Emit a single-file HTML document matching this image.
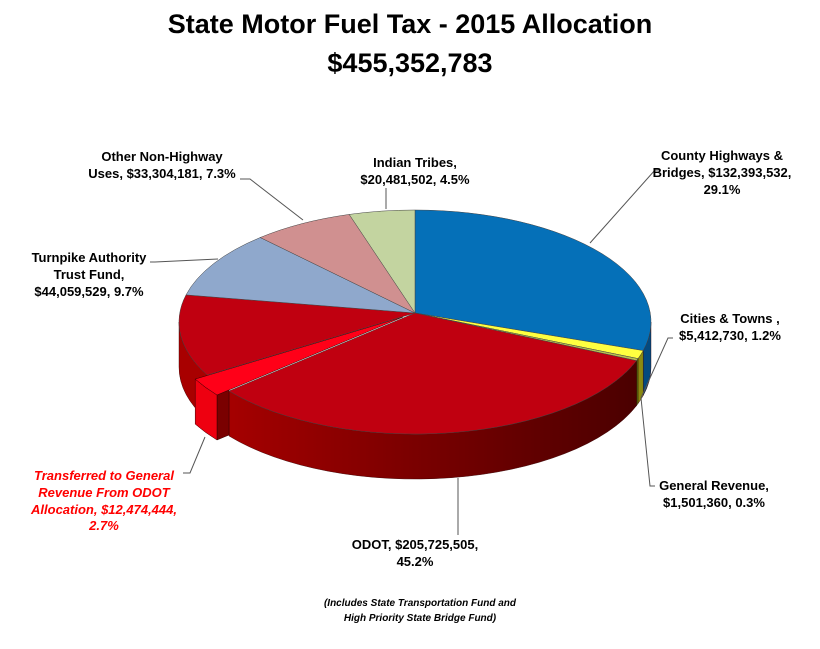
<!DOCTYPE html>
<html><head><meta charset="utf-8"><style>
body{margin:0;background:#fff;width:820px;height:644px;overflow:hidden;font-family:"Liberation Sans",sans-serif}
svg text{font-family:"Liberation Sans",sans-serif;font-weight:bold;font-size:13px;fill:#000}
</style></head><body>
<svg width="820" height="644" viewBox="0 0 820 644" xmlns="http://www.w3.org/2000/svg">
<defs>
<linearGradient id="gs" x1="180" y1="0" x2="650" y2="0" gradientUnits="userSpaceOnUse">
<stop offset="0" stop-color="#b00000"/><stop offset="0.5" stop-color="#7a0000"/><stop offset="1" stop-color="#480000"/>
</linearGradient>
</defs>
<g stroke="#300" stroke-width="0.4">
<path d="M651,322 A236,112 0 0 1 643.2,350.6 L643.2,395.6 A236,112 0 0 0 651,367 Z" fill="#034a80"/>
<path d="M643.2,350.6 A236,112 0 0 1 638,358.6 L638,403.6 A236,112 0 0 0 643.2,395.6 Z" fill="#8a8a10"/>
<path d="M638,358.6 A236,112 0 0 1 636.5,360.7 L636.5,405.7 A236,112 0 0 0 638,403.6 Z" fill="#556a10"/>
<path d="M636.5,360.7 A236,112 0 0 1 229,391 L229,436 A236,112 0 0 0 636.5,405.7 Z" fill="url(#gs)"/>
<path d="M207.2,375.1 A236,112 0 0 1 179,322 L179,367 A236,112 0 0 0 207.2,420.1 Z" fill="#a80000"/>
</g>
<g stroke="#300" stroke-width="0.5">
<path d="M217,395 L229,390 L229,435 L217,440 Z" fill="#7a0000"/>
<path d="M217,395 A236,112 0 0 1 195.2,379.1 L195.2,424.1 A236,112 0 0 0 217,440 Z" fill="#ee0010"/>
</g>
<g stroke="#444" stroke-width="0.5">
<path d="M415,313 L415,210 A236,112 0 0 1 643.2,350.6 Z" fill="#0570b8"/>
<path d="M415,313 L643.2,350.6 A236,112 0 0 1 638,358.6 Z" fill="#ffff40"/>
<path d="M415,313 L638,358.6 A236,112 0 0 1 636.5,360.7 Z" fill="#b8c050"/>
<path d="M415,313 L636.5,360.7 A236,112 0 0 1 229,391 Z" fill="#c00010"/>
<path d="M415,313 L207.2,375.1 A236,112 0 0 1 186,294.9 Z" fill="#c00010"/>
<path d="M415,313 L186,294.9 A236,112 0 0 1 260.2,237.5 Z" fill="#8fa8cc"/>
<path d="M415,313 L260.2,237.5 A236,112 0 0 1 349.2,214.4 Z" fill="#d09090"/>
<path d="M415,313 L349.2,214.4 A236,112 0 0 1 415,210 Z" fill="#c3d4a0"/>
</g>
<path d="M403,317 L217,395 A236,112 0 0 1 195.2,379.1 Z" fill="#ff0018" stroke="#300" stroke-width="0.5"/>
<text x="410" y="33" text-anchor="middle" style="font-size:27px">State Motor Fuel Tax - 2015 Allocation</text>
<text x="410" y="72" text-anchor="middle" style="font-size:27px">$455,352,783</text>
<g stroke="#555" stroke-width="1" fill="none">
<polyline points="590,243 655,170 660,170"/>
<polyline points="386,209 386,188"/>
<polyline points="303,220 250,179 240,179"/>
<polyline points="218,259 155,262 150,262"/>
<polyline points="641,398 668,338 673,338"/>
<polyline points="641,398 650,486 655,486"/>
<polyline points="205,437 190,473 183,473"/>
<polyline points="458,478 458,535"/>
</g>
<text x="722" y="160" text-anchor="middle">County Highways &amp;</text>
<text x="722" y="177" text-anchor="middle">Bridges, $132,393,532,</text>
<text x="722" y="194" text-anchor="middle">29.1%</text>
<text x="415" y="167" text-anchor="middle">Indian Tribes,</text>
<text x="415" y="184" text-anchor="middle">$20,481,502, 4.5%</text>
<text x="162" y="161" text-anchor="middle">Other Non-Highway</text>
<text x="162" y="178" text-anchor="middle">Uses, $33,304,181, 7.3%</text>
<text x="89" y="262" text-anchor="middle">Turnpike Authority</text>
<text x="89" y="279" text-anchor="middle">Trust Fund,</text>
<text x="89" y="296" text-anchor="middle">$44,059,529, 9.7%</text>
<text x="730" y="323" text-anchor="middle">Cities &amp; Towns ,</text>
<text x="730" y="340" text-anchor="middle">$5,412,730, 1.2%</text>
<text x="714" y="490" text-anchor="middle">General Revenue,</text>
<text x="714" y="507" text-anchor="middle">$1,501,360, 0.3%</text>
<g style="font-style:italic">
<text x="104" y="480" text-anchor="middle" style="fill:#ff0000">Transferred to General</text>
<text x="104" y="497" text-anchor="middle" style="fill:#ff0000">Revenue From ODOT</text>
<text x="104" y="514" text-anchor="middle" style="fill:#ff0000">Allocation, $12,474,444,</text>
<text x="104" y="530" text-anchor="middle" style="fill:#ff0000">2.7%</text>
<text x="420" y="606" text-anchor="middle" style="font-size:10px">(Includes State Transportation Fund and</text>
<text x="420" y="621" text-anchor="middle" style="font-size:10px">High Priority State Bridge Fund)</text>
</g>
<text x="415" y="549" text-anchor="middle">ODOT, $205,725,505,</text>
<text x="415" y="566" text-anchor="middle">45.2%</text>
</svg>
</body></html>
